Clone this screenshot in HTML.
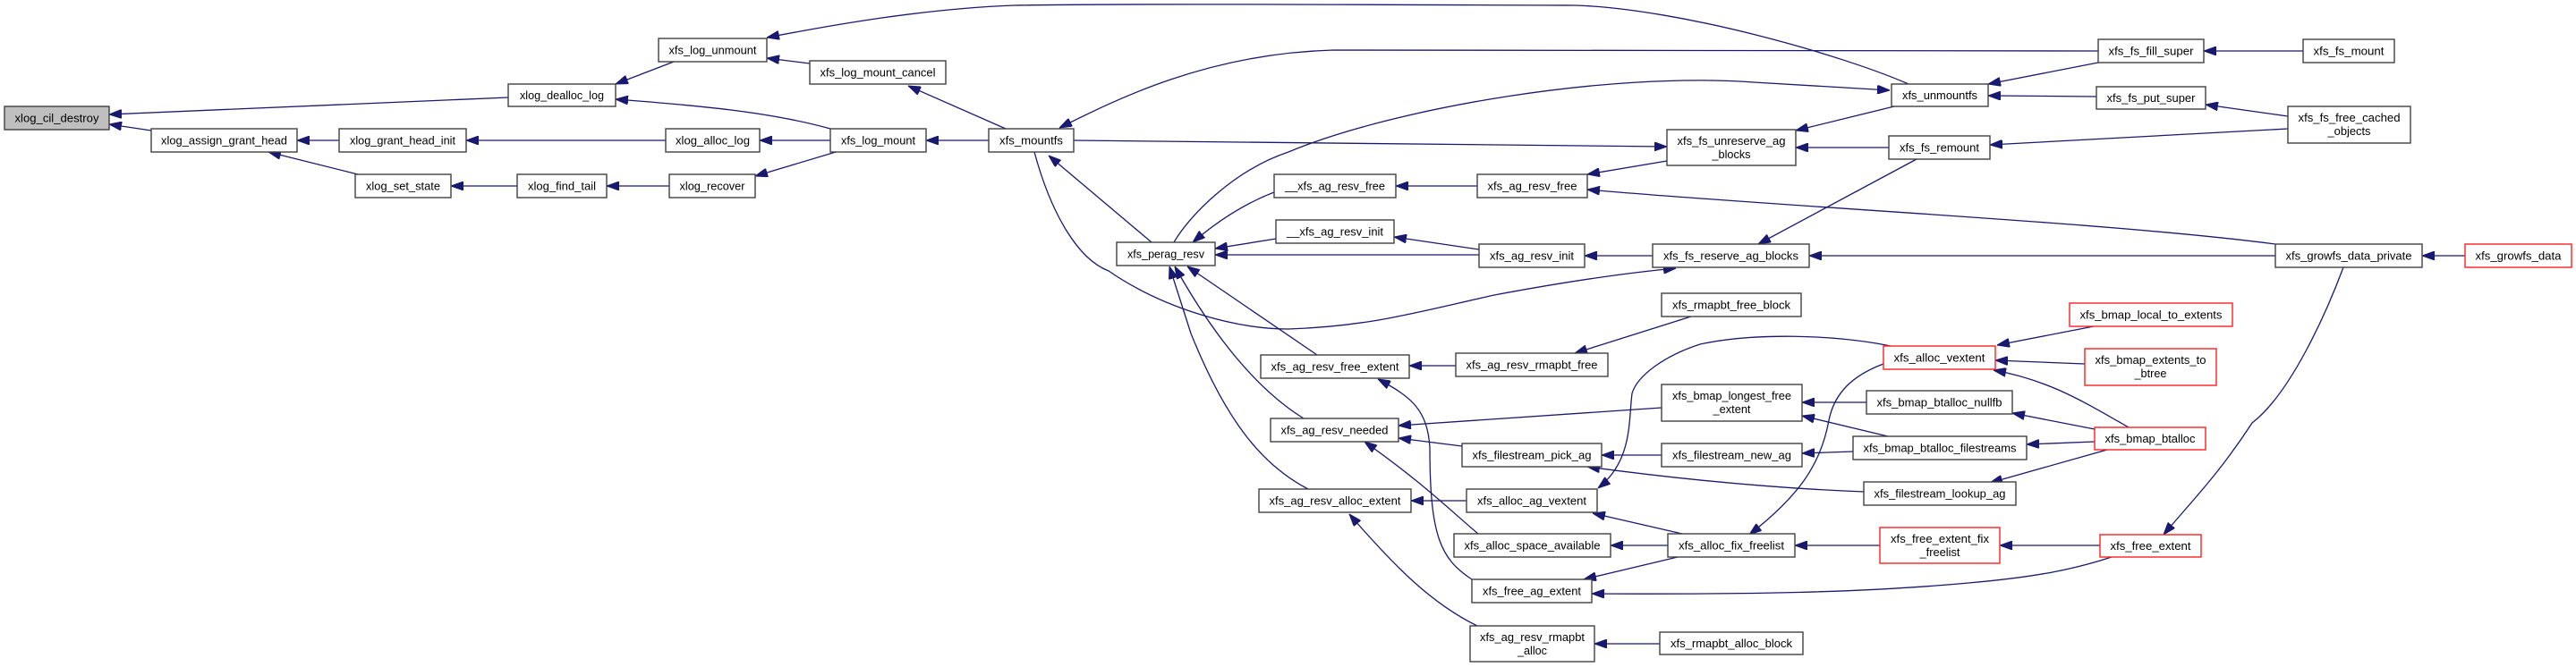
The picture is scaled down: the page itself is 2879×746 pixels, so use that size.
<!DOCTYPE html>
<html><head><meta charset="utf-8"><style>
html,body{margin:0;padding:0;background:#fff;}
svg{display:block;}
text{font-family:"Liberation Sans",Arial,sans-serif;font-size:13px;fill:#000;}
.n{fill:#fff;stroke:#404040;stroke-width:1.4;}
.r{fill:#fff;stroke:#ff2020;stroke-width:1.4;}
.g{fill:#bfbfbf;stroke:#404040;stroke-width:1.4;}
path{fill:none;stroke:#191970;stroke-width:1.3;}
</style></head><body>
<svg width="2879" height="746" viewBox="0 0 2879 746" xmlns="http://www.w3.org/2000/svg">
<defs><marker id="a" markerWidth="14" markerHeight="10" refX="14" refY="5" orient="auto" markerUnits="userSpaceOnUse"><polygon points="0,0 14,5 0,10" fill="#191970" stroke="#191970"/></marker></defs>
<g marker-end="url(#a)">
<path d="M568,109 L122,128"/>
<path d="M169,146 L122,139"/>
<path d="M379,157 L332,157"/>
<path d="M400,195 L300,170"/>
<path d="M578,208 L504,208"/>
<path d="M748,208 L678,208"/>
<path d="M744,157 L521,157"/>
<path d="M753,69 L688,94"/>
<path d="M928,144 C860,125 780,118 688,111"/>
<path d="M905,71 L857,65"/>
<path d="M928,157 L849,157"/>
<path d="M934,170 L844,197"/>
<path d="M1105,157 L1035,157"/>
<path d="M1124,144 L1015,96"/>
<path d="M2133,94 C2060,62 1880,10 1761,6 C1500,5 1250,4 1133,6 C1030,10 930,28 857,42"/>
<path d="M2345,57 L1490,56 C1350,60 1250,110 1184,143"/>
<path d="M1312,271 C1330,240 1380,190 1440,170 C1560,120 1800,80 1960,92 L2112,101"/>
<path d="M1200,157 L1863,164"/>
<path d="M2117,119 L2007,146"/>
<path d="M2111,165 L2007,165"/>
<path d="M1863,180 L1774,195"/>
<path d="M1651,208 L1560,208"/>
<path d="M1424,215 C1390,228 1360,248 1333,271"/>
<path d="M1426,267 L1358,278"/>
<path d="M1653,285 L1358,285"/>
<path d="M1653,279 L1558,265"/>
<path d="M1847,286 L1771,286"/>
<path d="M2543,273 C2350,248 2000,232 1774,212"/>
<path d="M2142,178 L1965,273"/>
<path d="M2543,286 L2022,286"/>
<path d="M1156,170 C1175,240 1205,290 1239,303 C1300,345 1380,368 1440,368 C1530,365 1580,350 1670,330 C1750,315 1820,305 1873,300"/>
<path d="M2345,70 L2222,94"/>
<path d="M2343,108 L2222,107"/>
<path d="M2574,57 L2463,57"/>
<path d="M2557,130 L2465,117"/>
<path d="M2557,144 L2224,162"/>
<path d="M2755,286 L2707,286"/>
<path d="M1287,271 L1172,174"/>
<path d="M1472,397 L1327,298"/>
<path d="M1457,468 C1420,445 1370,400 1313,298"/>
<path d="M1462,547 C1410,520 1370,470 1331,373 L1307,298"/>
<path d="M1627,409 L1575,409"/>
<path d="M1890,354 L1760,395"/>
<path d="M1645,648 C1610,625 1598,600 1598,500 C1595,460 1580,445 1540,424"/>
<path d="M1857,456 L1563,476"/>
<path d="M1634,499 L1563,490"/>
<path d="M1652,597 C1620,570 1590,540 1525,494"/>
<path d="M1857,509 L1790,509"/>
<path d="M2083,550 C1980,546 1870,535 1774,522"/>
<path d="M1639,560 L1577,560"/>
<path d="M2113,387 C2050,374 1960,372 1900,385 C1860,398 1830,420 1824,440 C1820,470 1825,515 1786,546"/>
<path d="M1880,597 L1780,574"/>
<path d="M2105,407 C2070,420 2050,440 2044,470 C2035,520 2010,555 1955,598"/>
<path d="M1864,610 L1800,610"/>
<path d="M1875,623 L1770,648"/>
<path d="M2360,623 C2320,636 2280,645 2200,652 C2080,663 1950,665 1779,664"/>
<path d="M1855,720 L1782,720"/>
<path d="M1651,700 C1600,675 1560,635 1508,575"/>
<path d="M2086,450 L2014,450"/>
<path d="M2110,488 L2014,465"/>
<path d="M2071,505 L2014,507"/>
<path d="M2101,610 L2006,610"/>
<path d="M2347,610 L2235,610"/>
<path d="M2330,407 L2230,403"/>
<path d="M2379,478 C2330,450 2290,425 2228,414"/>
<path d="M2341,480 L2249,462"/>
<path d="M2341,494 L2265,497"/>
<path d="M2355,503 L2224,540"/>
<path d="M2340,365 L2232,386"/>
<path d="M2619,299 C2600,350 2560,440 2517,473 C2480,530 2450,560 2418,598"/>
</g>
<g>
<rect class="g" x="5" y="119" width="117" height="26"/><text x="63.5" y="136.5" text-anchor="middle" textLength="94" lengthAdjust="spacingAndGlyphs">xlog_cil_destroy</text>
<rect class="n" x="568" y="94" width="120" height="25"/><text x="628" y="111" text-anchor="middle" textLength="94" lengthAdjust="spacingAndGlyphs">xlog_dealloc_log</text>
<rect class="n" x="169" y="144" width="163" height="26"/><text x="250.5" y="161.5" text-anchor="middle" textLength="141" lengthAdjust="spacingAndGlyphs">xlog_assign_grant_head</text>
<rect class="n" x="379" y="144" width="142" height="26"/><text x="450" y="161.5" text-anchor="middle" textLength="118" lengthAdjust="spacingAndGlyphs">xlog_grant_head_init</text>
<rect class="n" x="397" y="195" width="107" height="26"/><text x="450.5" y="212.5" text-anchor="middle" textLength="83" lengthAdjust="spacingAndGlyphs">xlog_set_state</text>
<rect class="n" x="578" y="195" width="100" height="26"/><text x="628" y="212.5" text-anchor="middle" textLength="76" lengthAdjust="spacingAndGlyphs">xlog_find_tail</text>
<rect class="n" x="736" y="43" width="121" height="26"/><text x="796.5" y="60.5" text-anchor="middle" textLength="98" lengthAdjust="spacingAndGlyphs">xfs_log_unmount</text>
<rect class="n" x="905" y="68" width="152" height="26"/><text x="981" y="85.5" text-anchor="middle" textLength="129" lengthAdjust="spacingAndGlyphs">xfs_log_mount_cancel</text>
<rect class="n" x="744" y="144" width="105" height="26"/><text x="796.5" y="161.5" text-anchor="middle" textLength="83" lengthAdjust="spacingAndGlyphs">xlog_alloc_log</text>
<rect class="n" x="928" y="144" width="107" height="26"/><text x="981.5" y="161.5" text-anchor="middle" textLength="83" lengthAdjust="spacingAndGlyphs">xfs_log_mount</text>
<rect class="n" x="748" y="195" width="96" height="26"/><text x="796" y="212.5" text-anchor="middle" textLength="73" lengthAdjust="spacingAndGlyphs">xlog_recover</text>
<rect class="n" x="1105" y="144" width="95" height="26"/><text x="1152.5" y="161.5" text-anchor="middle" textLength="71" lengthAdjust="spacingAndGlyphs">xfs_mountfs</text>
<rect class="n" x="1248" y="271" width="110" height="26"/><text x="1303" y="288.5" text-anchor="middle" textLength="86" lengthAdjust="spacingAndGlyphs">xfs_perag_resv</text>
<rect class="n" x="1424" y="195" width="136" height="26"/><text x="1492" y="212.5" text-anchor="middle" textLength="112" lengthAdjust="spacingAndGlyphs">__xfs_ag_resv_free</text>
<rect class="n" x="1426" y="246" width="132" height="26"/><text x="1492" y="263.5" text-anchor="middle" textLength="108" lengthAdjust="spacingAndGlyphs">__xfs_ag_resv_init</text>
<rect class="n" x="1651" y="195" width="123" height="26"/><text x="1712.5" y="212.5" text-anchor="middle" textLength="100" lengthAdjust="spacingAndGlyphs">xfs_ag_resv_free</text>
<rect class="n" x="1863" y="145" width="144" height="40"/><text x="1935" y="162" text-anchor="middle" textLength="121" lengthAdjust="spacingAndGlyphs">xfs_fs_unreserve_ag</text><text x="1935" y="177" text-anchor="middle" textLength="43" lengthAdjust="spacingAndGlyphs">_blocks</text>
<rect class="n" x="1653" y="273" width="118" height="26"/><text x="1712" y="290.5" text-anchor="middle" textLength="94" lengthAdjust="spacingAndGlyphs">xfs_ag_resv_init</text>
<rect class="n" x="1847" y="273" width="175" height="26"/><text x="1934.5" y="290.5" text-anchor="middle" textLength="151" lengthAdjust="spacingAndGlyphs">xfs_fs_reserve_ag_blocks</text>
<rect class="n" x="1857" y="328" width="156" height="26"/><text x="1935" y="345.5" text-anchor="middle" textLength="132" lengthAdjust="spacingAndGlyphs">xfs_rmapbt_free_block</text>
<rect class="n" x="2114" y="94" width="108" height="25"/><text x="2168" y="111" text-anchor="middle" textLength="84" lengthAdjust="spacingAndGlyphs">xfs_unmountfs</text>
<rect class="n" x="2111" y="152" width="113" height="26"/><text x="2167.5" y="169.5" text-anchor="middle" textLength="89" lengthAdjust="spacingAndGlyphs">xfs_fs_remount</text>
<rect class="n" x="2345" y="44" width="118" height="26"/><text x="2404" y="61.5" text-anchor="middle" textLength="95" lengthAdjust="spacingAndGlyphs">xfs_fs_fill_super</text>
<rect class="n" x="2574" y="44" width="102" height="26"/><text x="2625" y="61.5" text-anchor="middle" textLength="79" lengthAdjust="spacingAndGlyphs">xfs_fs_mount</text>
<rect class="n" x="2343" y="97" width="122" height="25"/><text x="2404" y="114" text-anchor="middle" textLength="99" lengthAdjust="spacingAndGlyphs">xfs_fs_put_super</text>
<rect class="n" x="2557" y="119" width="137" height="41"/><text x="2625.5" y="136" text-anchor="middle" textLength="114" lengthAdjust="spacingAndGlyphs">xfs_fs_free_cached</text><text x="2625.5" y="151" text-anchor="middle" textLength="48" lengthAdjust="spacingAndGlyphs">_objects</text>
<rect class="n" x="2543" y="273" width="164" height="26"/><text x="2625" y="290.5" text-anchor="middle" textLength="141" lengthAdjust="spacingAndGlyphs">xfs_growfs_data_private</text>
<rect class="r" x="2755" y="273" width="119" height="26"/><text x="2814.5" y="290.5" text-anchor="middle" textLength="96" lengthAdjust="spacingAndGlyphs">xfs_growfs_data</text>
<rect class="r" x="2313" y="339" width="182" height="26"/><text x="2404" y="356.5" text-anchor="middle" textLength="159" lengthAdjust="spacingAndGlyphs">xfs_bmap_local_to_extents</text>
<rect class="n" x="1409" y="397" width="166" height="26"/><text x="1492" y="414.5" text-anchor="middle" textLength="143" lengthAdjust="spacingAndGlyphs">xfs_ag_resv_free_extent</text>
<rect class="n" x="1627" y="395" width="170" height="26"/><text x="1712" y="412.5" text-anchor="middle" textLength="147" lengthAdjust="spacingAndGlyphs">xfs_ag_resv_rmapbt_free</text>
<rect class="n" x="1857" y="430" width="157" height="41"/><text x="1935.5" y="447" text-anchor="middle" textLength="133" lengthAdjust="spacingAndGlyphs">xfs_bmap_longest_free</text><text x="1935.5" y="462" text-anchor="middle" textLength="42" lengthAdjust="spacingAndGlyphs">_extent</text>
<rect class="n" x="1420" y="468" width="143" height="26"/><text x="1491.5" y="485.5" text-anchor="middle" textLength="120" lengthAdjust="spacingAndGlyphs">xfs_ag_resv_needed</text>
<rect class="n" x="1634" y="496" width="156" height="26"/><text x="1712" y="513.5" text-anchor="middle" textLength="133" lengthAdjust="spacingAndGlyphs">xfs_filestream_pick_ag</text>
<rect class="n" x="1857" y="496" width="157" height="26"/><text x="1935.5" y="513.5" text-anchor="middle" textLength="133" lengthAdjust="spacingAndGlyphs">xfs_filestream_new_ag</text>
<rect class="n" x="1407" y="547" width="170" height="26"/><text x="1492" y="564.5" text-anchor="middle" textLength="147" lengthAdjust="spacingAndGlyphs">xfs_ag_resv_alloc_extent</text>
<rect class="n" x="1639" y="547" width="146" height="26"/><text x="1712" y="564.5" text-anchor="middle" textLength="122" lengthAdjust="spacingAndGlyphs">xfs_alloc_ag_vextent</text>
<rect class="n" x="1625" y="597" width="175" height="26"/><text x="1712.5" y="614.5" text-anchor="middle" textLength="152" lengthAdjust="spacingAndGlyphs">xfs_alloc_space_available</text>
<rect class="n" x="1864" y="597" width="142" height="26"/><text x="1935" y="614.5" text-anchor="middle" textLength="118" lengthAdjust="spacingAndGlyphs">xfs_alloc_fix_freelist</text>
<rect class="n" x="1645" y="648" width="134" height="26"/><text x="1712" y="665.5" text-anchor="middle" textLength="110" lengthAdjust="spacingAndGlyphs">xfs_free_ag_extent</text>
<rect class="n" x="1643" y="700" width="139" height="40"/><text x="1712.5" y="717" text-anchor="middle" textLength="117" lengthAdjust="spacingAndGlyphs">xfs_ag_resv_rmapbt</text><text x="1712.5" y="732" text-anchor="middle" textLength="33" lengthAdjust="spacingAndGlyphs">_alloc</text>
<rect class="n" x="1855" y="707" width="160" height="25"/><text x="1935" y="724" text-anchor="middle" textLength="136" lengthAdjust="spacingAndGlyphs">xfs_rmapbt_alloc_block</text>
<rect class="r" x="2105" y="387" width="125" height="26"/><text x="2167.5" y="404.5" text-anchor="middle" textLength="102" lengthAdjust="spacingAndGlyphs">xfs_alloc_vextent</text>
<rect class="r" x="2330" y="390" width="147" height="41"/><text x="2403.5" y="407" text-anchor="middle" textLength="124" lengthAdjust="spacingAndGlyphs">xfs_bmap_extents_to</text><text x="2403.5" y="422" text-anchor="middle" textLength="36" lengthAdjust="spacingAndGlyphs">_btree</text>
<rect class="n" x="2086" y="437" width="163" height="26"/><text x="2167.5" y="454.5" text-anchor="middle" textLength="140" lengthAdjust="spacingAndGlyphs">xfs_bmap_btalloc_nullfb</text>
<rect class="r" x="2341" y="478" width="124" height="25"/><text x="2403" y="495" text-anchor="middle" textLength="101" lengthAdjust="spacingAndGlyphs">xfs_bmap_btalloc</text>
<rect class="n" x="2071" y="488" width="194" height="26"/><text x="2168" y="505.5" text-anchor="middle" textLength="171" lengthAdjust="spacingAndGlyphs">xfs_bmap_btalloc_filestreams</text>
<rect class="n" x="2083" y="539" width="170" height="26"/><text x="2168" y="556.5" text-anchor="middle" textLength="147" lengthAdjust="spacingAndGlyphs">xfs_filestream_lookup_ag</text>
<rect class="r" x="2101" y="590" width="134" height="40"/><text x="2168" y="607" text-anchor="middle" textLength="110" lengthAdjust="spacingAndGlyphs">xfs_free_extent_fix</text><text x="2168" y="622" text-anchor="middle" textLength="45" lengthAdjust="spacingAndGlyphs">_freelist</text>
<rect class="r" x="2347" y="598" width="113" height="25"/><text x="2403.5" y="615" text-anchor="middle" textLength="90" lengthAdjust="spacingAndGlyphs">xfs_free_extent</text>
</g>
</svg>
</body></html>
